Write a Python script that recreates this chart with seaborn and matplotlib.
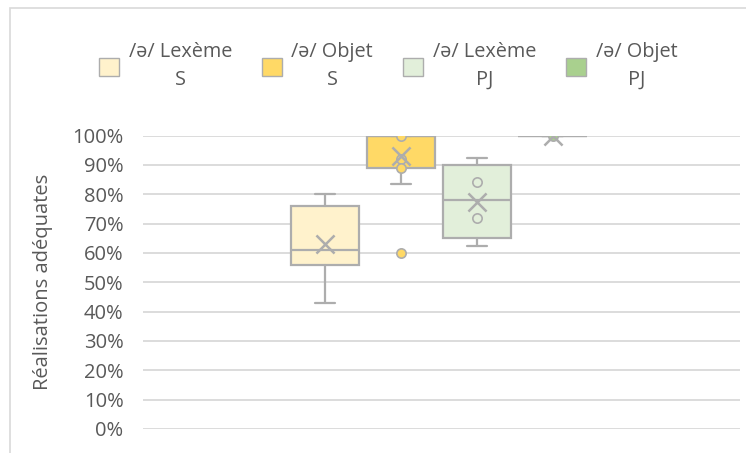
import matplotlib
matplotlib.use("Agg")
import matplotlib.pyplot as plt
from matplotlib.patches import Patch, Rectangle
from matplotlib.ticker import PercentFormatter
import seaborn as sns
import numpy as np

# groups and box statistics (fractions)
groups = ["/ə/ Lexème\nS", "/ə/ Objet\nS", "/ə/ Lexème\nPJ", "/ə/ Objet\nPJ"]
colors = ["#FFF2CC", "#FFD966", "#E2EFDA", "#A9D08E"]
whislo = [0.43, 0.835, 0.625, 1.00]
q1 = [0.56, 0.89, 0.65, 1.00]
med = [0.61, 1.00, 0.78, 1.00]
q3 = [0.76, 1.00, 0.90, 1.00]
whishi = [0.80, 1.00, 0.925, 1.00]
means = [0.63, 0.93, 0.775, 1.00]
# inner points / outliers per group
points = [[], [1.00, 0.92, 0.89, 0.60], [0.84, 0.72], [1.00]]

sns.set_style("white")
plt.rcParams["font.family"] = ["Open Sans", "DejaVu Sans"]
text_c = "#595959"
edge_c = "#ADADAD"

fig = plt.figure(figsize=(7.46, 4.53), dpi=100)
fig.patches.append(Rectangle((10 / 746, -0.05), 1.2, 1 - 8 / 453 + 0.05,
                             transform=fig.transFigure, fill=False,
                             edgecolor="#D9D9D9", linewidth=1.2, zorder=-1))
ax = fig.add_axes([143 / 746, 1 - 429 / 453, (740 - 143) / 746, (429 - 135.5) / 453])

pos = np.arange(len(groups))
stats = [dict(whislo=whislo[i], q1=q1[i], med=med[i], q3=q3[i], whishi=whishi[i],
              fliers=[]) for i in range(len(groups))]
bp = ax.bxp(stats, positions=pos, widths=0.9, patch_artist=True, showfliers=False,
            boxprops=dict(edgecolor=edge_c, linewidth=1.6),
            medianprops=dict(color=edge_c, linewidth=1.6),
            whiskerprops=dict(color=edge_c, linewidth=1.6),
            capprops=dict(color=edge_c, linewidth=1.6), capwidths=0.27)
for patch, c in zip(bp["boxes"], colors):
    patch.set_facecolor(c)

for i, pts in enumerate(points):
    sns.scatterplot(x=[pos[i]] * len(pts), y=pts, ax=ax, s=45, color=colors[i],
                    edgecolor=edge_c, linewidth=1.2, zorder=4, legend=False)
sns.scatterplot(x=pos, y=means, ax=ax, marker="x", s=170, color=edge_c,
                linewidth=1.8, zorder=5, legend=False)

ax.set_xlim(-2.4, 5.47)
ax.set_ylim(0, 1.0)
ax.set_yticks(np.arange(0, 1.01, 0.1))
ax.yaxis.set_major_formatter(PercentFormatter(1.0, decimals=0))
ax.set_xticks([])
ax.grid(axis="y", color="#D9D9D9", linewidth=1.3)
ax.set_axisbelow(True)
for s in ax.spines.values():
    s.set_visible(False)
ax.tick_params(axis="y", labelsize=14.5, colors=text_c, length=0, pad=14)
ax.set_ylabel("Réalisations adéquates", fontsize=14.5, color=text_c, labelpad=14)

handles = [Patch(facecolor=c, edgecolor=edge_c, linewidth=1.0) for c in colors]
leg = fig.legend(handles, groups, loc="center", bbox_to_anchor=(388 / 746, 1 - 66 / 453),
                 ncol=4, frameon=False, fontsize=14.3, handlelength=1.0,
                 handleheight=1.0, handletextpad=0.5, columnspacing=1.5)
for t in leg.get_texts():
    t.set_color(text_c)
    t.set_multialignment("center")
    t.set_linespacing(1.5)

fig.savefig("out.png", dpi=100)
